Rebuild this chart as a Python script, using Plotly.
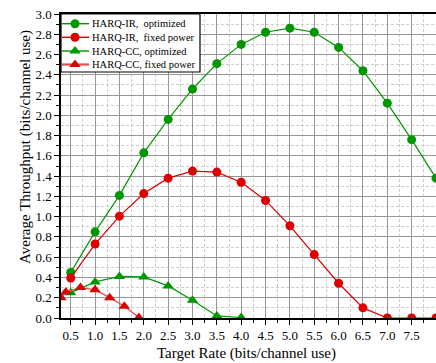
import plotly.graph_objects as go

rates = [0.5, 1.0, 1.5, 2.0, 2.5, 3.0, 3.5, 4.0, 4.5, 5.0, 5.5, 6.0, 6.5, 7.0, 7.5, 8.0]
ir_opt = [0.45, 0.85, 1.21, 1.63, 1.96, 2.26, 2.51, 2.70, 2.82, 2.86, 2.82, 2.67, 2.44, 2.12, 1.76, 1.38]
ir_fixed = [0.395, 0.73, 1.005, 1.228, 1.38, 1.45, 1.44, 1.34, 1.16, 0.91, 0.626, 0.343, 0.10, 0.0, 0.0, 0.0]
cc_rates = [0.5, 1.0, 1.5, 2.0, 2.5, 3.0, 3.5, 4.0]
cc_opt = [0.25, 0.356, 0.41, 0.405, 0.317, 0.175, 0.02, 0.005]
ccf_rates = [0.3, 0.4, 0.7, 1.0, 1.3, 1.6, 1.9]
cc_fixed = [0.2, 0.257, 0.30, 0.28, 0.20, 0.116, 0.005]
names = ["HARQ-IR,  optimized", "HARQ-IR,  fixed power", "HARQ-CC, optimized", "HARQ-CC, fixed power"]

GREEN = "rgb(0,150,0)"
RED = "rgb(220,0,0)"
PINK = "rgb(228,80,80)"
FONT = "Liberation Serif"

W, H = 436, 363
L, R, T, B = 61, 0, 14, 45
PW, PH = W - L - R, H - T - B


def px(x):
    return (x - L) / PW


def py(y):
    return (H - B - y) / PH


styles = [
    (rates, ir_opt, GREEN, GREEN, "circle", 9, 1.2),
    (rates, ir_fixed, RED, RED, "circle", 9, 1.2),
    (cc_rates, cc_opt, GREEN, GREEN, "triangle-up", 10, 1.2),
    (ccf_rates, cc_fixed, PINK, RED, "triangle-up", 10, 1.4),
]

fig = go.Figure()
for (xs, ys, lc, mc, sym, ms, lw), nm in zip(styles, names):
    fig.add_trace(go.Scatter(x=xs, y=ys, mode="lines+markers", name=nm, showlegend=False,
                             line=dict(color=lc, width=lw),
                             marker=dict(symbol=sym, size=ms, color=mc)))

# compact legend drawn on an invisible overlay axis (0..1 in plot-area units)
bx0, bx1, by0, by1 = px(61), px(200), py(72), py(14)
fig.add_trace(go.Scatter(x=[bx0, bx1, bx1, bx0, bx0], y=[by0, by0, by1, by1, by0],
                         xaxis="x2", yaxis="y2", mode="lines", fill="toself", fillcolor="white",
                         line=dict(color="black", width=1.2), hoverinfo="skip", showlegend=False))
rows = [23.7, 37.3, 51.0, 64.5]
annotations = []
for (xs, ys, lc, mc, sym, ms, lw), nm, ry in zip(styles, names, rows):
    yy = py(ry)
    fig.add_trace(go.Scatter(x=[px(62), px(89)], y=[yy, yy], xaxis="x2", yaxis="y2", mode="lines",
                             line=dict(color=lc, width=1.4 if lc != PINK else 2.2),
                             hoverinfo="skip", showlegend=False))
    fig.add_trace(go.Scatter(x=[px(75)], y=[yy], xaxis="x2", yaxis="y2", mode="markers",
                             marker=dict(symbol=sym, size=ms, color=mc), cliponaxis=False,
                             hoverinfo="skip", showlegend=False))
    annotations.append(dict(text=nm, xref="paper", yref="paper", x=px(91), y=yy, showarrow=False,
                            xanchor="left", yanchor="middle", borderpad=0,
                            font=dict(family=FONT, size=10.5, color="black")))

xt = [0.5 * i for i in range(1, 17)]
yt = [0.2 * i for i in range(0, 16)]

GRID = "rgb(150,150,150)"
MGRID = "rgb(205,205,205)"

fig.update_layout(
    xaxis=dict(range=[0.3, 8.0], tickvals=xt, ticktext=[f"{v:.1f}" for v in xt], automargin=False,
               ticks="outside", ticklen=5, tickcolor="black", tickwidth=1, ticklabelstandoff=0,
               showline=True, linecolor="black", linewidth=1.5, mirror=True,
               showgrid=True, gridcolor=GRID, gridwidth=1.2,
               minor=dict(dtick=0.25, tick0=0.25, ticks="outside", ticklen=3, tickcolor="black",
                          showgrid=True, gridcolor=MGRID, griddash="3px,2px", gridwidth=1),
               tickfont=dict(family=FONT, size=13, color="black"), zeroline=False),
    yaxis=dict(range=[0, 3.0], tickvals=yt, ticktext=[f"{v:.1f}" for v in yt], automargin=False,
               ticks="outside", ticklen=5, tickcolor="black", tickwidth=1, ticklabelstandoff=0,
               showline=True, linecolor="black", linewidth=1.5, mirror=True,
               showgrid=True, gridcolor=GRID, gridwidth=1.2,
               minor=dict(dtick=0.1, tick0=0.1, ticks="outside", ticklen=3, tickcolor="black",
                          showgrid=True, gridcolor=MGRID, griddash="3px,2px", gridwidth=1),
               tickfont=dict(family=FONT, size=13, color="black"), zeroline=False),
    xaxis2=dict(overlaying="x", range=[0, 1], visible=False, automargin=False),
    yaxis2=dict(overlaying="y", range=[0, 1], visible=False, automargin=False),
)

annotations.append(dict(text="Average Throughput (bits/channel use)", xref="paper", yref="paper",
                        x=px(25), y=py(147), textangle=-90, showarrow=False,
                        xanchor="center", yanchor="middle",
                        font=dict(family=FONT, size=15, color="black")))
annotations.append(dict(text="Target Rate (bits/channel use)", xref="paper", yref="paper",
                        x=px(246), y=py(353), showarrow=False, xanchor="center", yanchor="middle",
                        font=dict(family=FONT, size=15, color="black")))

fig.update_layout(width=W, height=H, margin=dict(l=L, r=R, t=T, b=B),
                  paper_bgcolor="white", plot_bgcolor="white",
                  font=dict(family=FONT, color="black"),
                  annotations=annotations, showlegend=False)

fig.write_html("out.html")
